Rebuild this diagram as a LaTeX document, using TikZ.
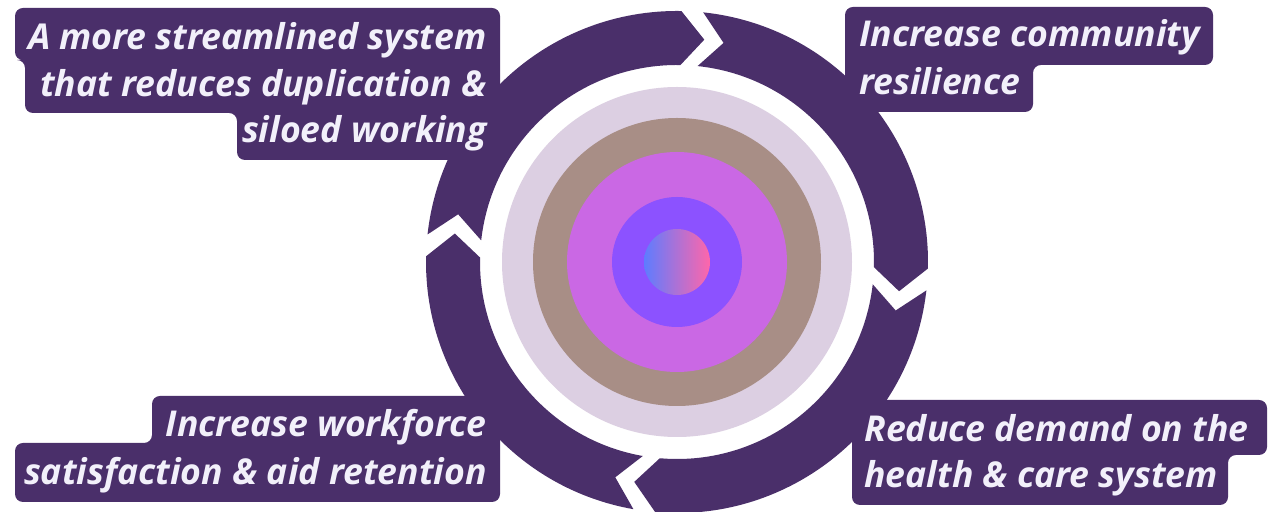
\documentclass[tikz,border=0pt]{standalone}
\usepackage{fontspec}
\newfontfamily\labfont{Open Sans}
\definecolor{ringc}{HTML}{4A2F6A}
\definecolor{lav}{HTML}{DCCFE2}
\definecolor{taupe}{HTML}{A88E86}
\definecolor{mag}{HTML}{CA68E4}
\definecolor{vio}{HTML}{8C52FF}
\definecolor{gblue}{HTML}{5E7CFF}
\definecolor{gpink}{HTML}{FF66AA}
\definecolor{labc}{HTML}{F2F0FA}
\begin{document}
\begin{tikzpicture}[x=0.5pt,y=-0.5pt,
  box/.style={fill=ringc, rounded corners=4pt},
  lab/.style={text=labc, font=\labfont\bfseries\itshape\fontsize{17.8}{21}\selectfont, inner sep=0pt}]
\fill[white] (0,0) rectangle (1276,512);
\useasboundingbox (0,0) rectangle (1276,512);
\coordinate (c) at (677,262);
% concentric discs
\fill[lav] (c) circle[radius=175];
\fill[taupe] (c) circle[radius=144];
\fill[mag] (c) circle[radius=110];
\fill[vio] (c) circle[radius=65];
\shade[left color=gblue, right color=gpink] (c) circle[radius=33];
% ring of four chevron arrows
\begin{scope}[shift={(c)}, yscale=-1]
\foreach \T/\L in {84/-1.5, -6.5/-95, -100/-181.3, -186.3/-271}{
  \fill[ringc] (\T:251) arc[start angle=\T, end angle=\L, radius=251]
    -- ({\L-6}:224) -- (\L:197) arc[start angle=\L, end angle=\T, radius=197]
    -- ({\T-6}:224) -- cycle;
}
\end{scope}
% label boxes
\fill[box] (15,8) -- (500,8) -- (500,160) -- (237,160) -- (237,113) -- (25,113) -- (25,60) -- (15,60) -- cycle;
\fill[box] (845,7) -- (1213,7) -- (1213,65) -- (1033,65) -- (1033,112) -- (845,112) -- cycle;
\fill[box] (152,396) -- (500,396) -- (500,502) -- (15,502) -- (15,443) -- (152,443) -- cycle;
\fill[box] (852,400) -- (1267,400) -- (1267,455) -- (1228,455) -- (1228,505) -- (852,505) -- cycle;
% labels
\node[lab, anchor=base east] (t1) at (487,50) {A more streamlined system};
\node[lab, anchor=base east] (t2) at (487,97) {that reduces duplication \&};
\node[lab, anchor=base east] (t3) at (487,143) {siloed working};
\node[lab, anchor=base west] (t4) at (859,47) {Increase community};
\node[lab, anchor=base west] (t5) at (859,95) {resilience};
\node[lab, anchor=base east] (t6) at (487,437) {Increase workforce};
\node[lab, anchor=base east] (t7) at (487,485) {satisfaction \& aid retention};
\node[lab, anchor=base west] (t8) at (864,442) {Reduce demand on the};
\node[lab, anchor=base west] (t9) at (864,488) {health \& care system};
\end{tikzpicture}
\end{document}
